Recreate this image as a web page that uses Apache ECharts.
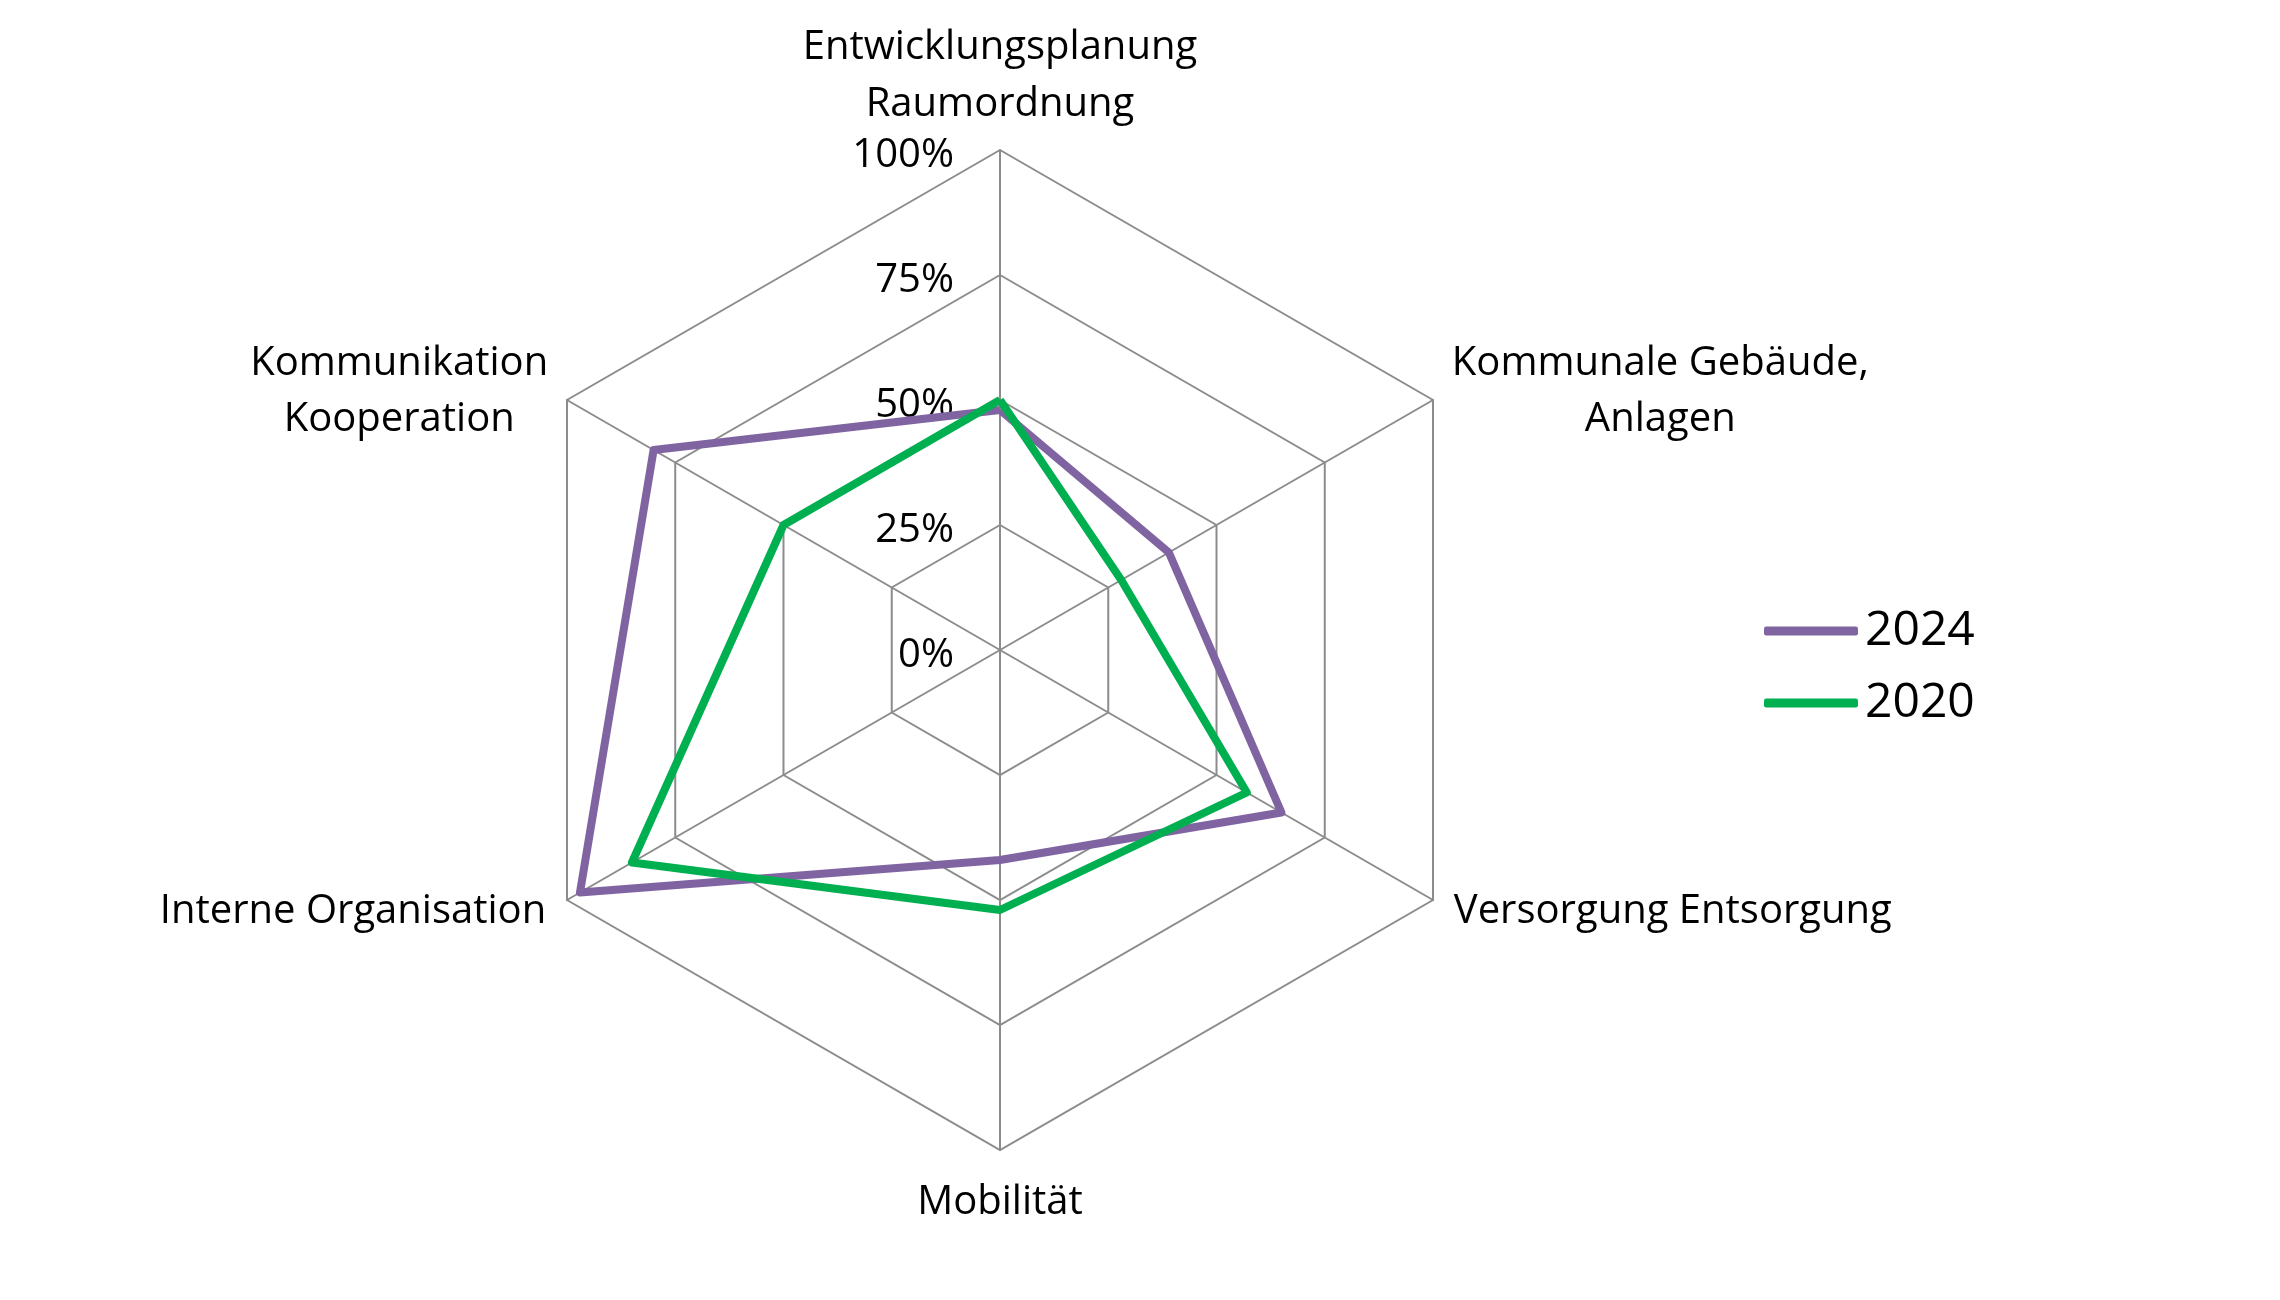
<!DOCTYPE html>
<html>
<head>
<meta charset="utf-8">
<script src="https://cdn.jsdelivr.net/npm/echarts@6/dist/echarts.min.js"></script>
<style>html,body{margin:0;padding:0;background:#fff}#c{width:2280px;height:1300px}</style>
</head>
<body>
<div id="c"></div>
<script>
// Indicators in ECharts order (counter-clockwise starting at the top)
const categories = [
  'Entwicklungsplanung\nRaumordnung',
  'Kommunikation\nKooperation',
  'Interne Organisation',
  'Mobilität',
  'Versorgung Entsorgung',
  'Kommunale Gebäude,\nAnlagen'
];
const values2024 = [48, 80, 97, 42, 65, 39];
const values2020 = [50, 50, 85, 52, 57, 28];
const seriesNames = ['2024', '2020'];
const tickLabels = ['0%', '25%', '50%', '75%', '100%'];

const colors = ['#8064A2', '#00B050'];
const FONT = 'Open Sans';

function nameFormatter(name) {
  const lines = name.split('\n');
  if (name.indexOf('Entwicklungsplanung') === 0) {
    return lines.map(l => '{n|' + l + '}').join('\n') + '\n{sp2| }';
  }
  if (name === 'Mobilität') {
    return '{sp1| }\n{n|' + name + '}';
  }
  if (name.indexOf('Kommunale') === 0) {
    return lines.map(l => '{w1|' + l + '}').join('\n');
  }
  if (name.indexOf('Kommunikation') === 0) {
    return lines.map(l => '{w2|' + l + '}').join('\n');
  }
  return '{n|' + name + '}';
}

const indicator = categories.map((c, i) => {
  const o = { name: c, min: 0, max: 100 };
  if (i === 0) {
    o.axisLabel = {
      show: true,
      formatter: v => '{t|' + tickLabels[Math.round(v / 25)] + '}',
      fontSize: 40, fontFamily: FONT, color: '#000', margin: 46,
      rich: { t: { fontSize: 40, fontFamily: FONT, color: '#000', padding: [12, 0, 0, 0] } }
    };
  }
  return o;
});

const chart = echarts.init(document.getElementById('c'), null, { renderer: 'canvas' });
chart.setOption({
  backgroundColor: '#fff',
  animation: false,
  textStyle: { fontFamily: FONT },
  legend: {
    orient: 'vertical',
    left: 1759,
    top: 602,
    itemWidth: 94,
    itemHeight: 9,
    itemGap: 24,
    icon: 'roundRect',
    data: seriesNames,
    textStyle: { fontSize: 48, fontFamily: FONT, color: '#000', lineHeight: 48, padding: [0, 0, 0, 2] }
  },
  radar: {
    center: [1000, 650],
    radius: 500,
    startAngle: 90,
    shape: 'polygon',
    splitNumber: 4,
    indicator: indicator,
    nameGap: 24,
    axisName: {
      color: '#000',
      fontSize: 40,
      fontFamily: FONT,
      verticalAlign: 'middle',
      formatter: nameFormatter,
      rich: {
        n: { fontSize: 40, fontFamily: FONT, color: '#000', lineHeight: 57, align: 'center' },
        w1: { fontSize: 40, fontFamily: FONT, color: '#000', lineHeight: 56, width: 413, align: 'center', padding: [8, 0, 0, 0] },
        w2: { fontSize: 40, fontFamily: FONT, color: '#000', lineHeight: 56, width: 294, align: 'center', padding: [8, 0, 0, 0] },
        sp1: { fontSize: 10, lineHeight: 58 },
        sp2: { fontSize: 2, lineHeight: 3 }
      }
    },
    axisLabel: { show: false },
    axisTick: { show: false },
    axisLine: { lineStyle: { color: '#8c8c8c', width: 2 } },
    splitLine: { lineStyle: { color: '#8c8c8c', width: 2 } },
    splitArea: { show: false }
  },
  series: [{
    type: 'radar',
    symbol: 'none',
    data: [
      { name: seriesNames[0], value: values2024, lineStyle: { color: colors[0], width: 8 }, itemStyle: { color: colors[0] } },
      { name: seriesNames[1], value: values2020, lineStyle: { color: colors[1], width: 8 }, itemStyle: { color: colors[1] } }
    ]
  }]
});
</script>
</body>
</html>
